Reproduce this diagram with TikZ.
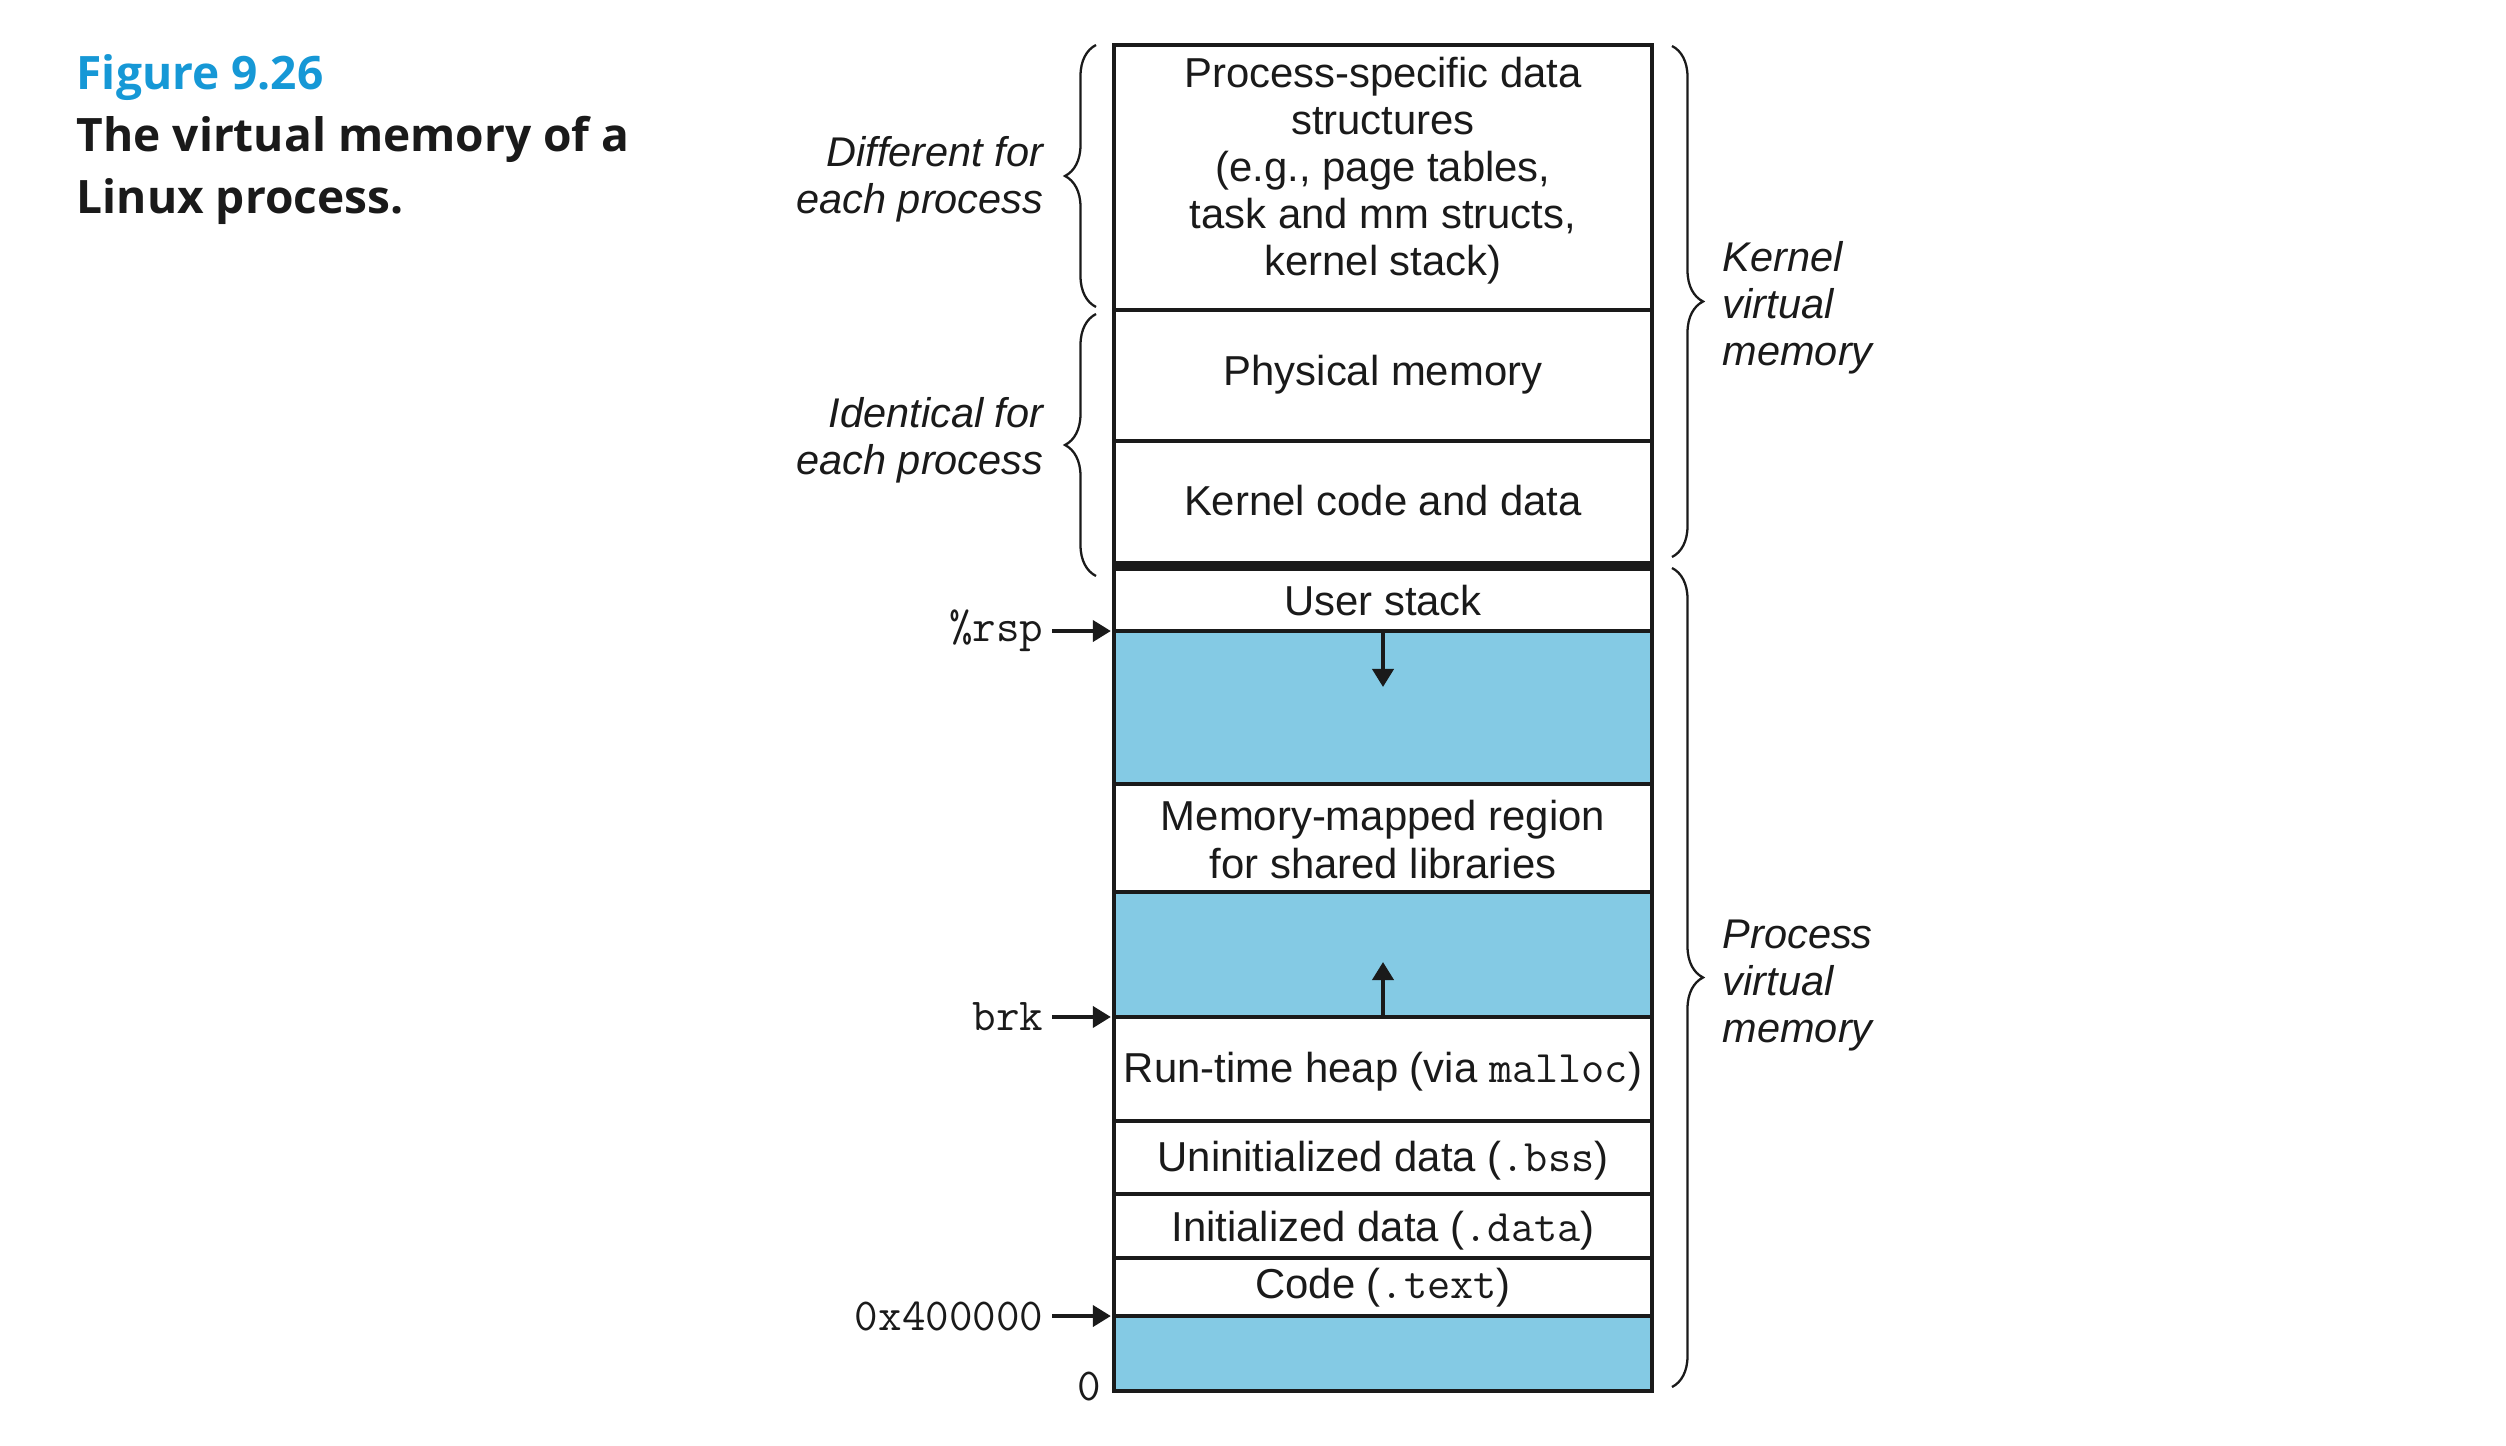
\documentclass[tikz,border=0pt]{standalone}
\usepackage{fontspec}
\setmainfont{Liberation Sans}
\setmonofont{Latin Modern Mono}
\newfontfamily\titlefont{Open Sans}
\usetikzlibrary{arrows.meta,decorations.pathreplacing}
\definecolor{memblue}{RGB}{132,202,228}
\definecolor{figblue}{RGB}{22,152,214}
\definecolor{ink}{RGB}{26,26,26}
\begin{document}
\begin{tikzpicture}[x=0.01cm,y=-0.01cm,
  region/.style={draw=ink,line width=1.13pt,minimum width=5.38cm,inner sep=0pt,outer sep=0pt},
  gap/.style={region,fill=memblue},
  lbl/.style={font=\fontsize{11.9}{13.4}\selectfont,text=ink,inner sep=0pt,anchor=base},
  ilbl/.style={lbl,font=\fontsize{11.8}{13.4}\selectfont\itshape},
  addr/.style={font=\fontsize{13}{15}\selectfont\ttfamily,text=ink,anchor=east,inner xsep=0.08cm,inner ysep=0pt},
  ptr/.style={draw=ink,line width=1.1pt,-{Triangle[length=0.18cm,width=0.21cm]}},
  brace/.style={draw=ink,line width=0.65pt,decorate,decoration={brace,amplitude=0.31cm}},
  ttl/.style={font=\titlefont\bfseries\fontsize{13.1}{15}\selectfont,inner sep=0pt,anchor=base west}
]
\useasboundingbox (0,0) rectangle (2506,1446);

% title
\node[ttl,text=figblue] (fig) at (76,90) {Figure 9.26};
\node[ttl,text=ink] (capA) at (76,152) {The virtual memory of a};
\node[ttl,text=ink] (capB) at (76,214) {Linux process.};

% regions
\node[region,minimum height=2.65cm] (psd) at (1383,177.5) {};
\node[region,minimum height=1.31cm] (phys) at (1383,375.5) {};
\node[region,minimum height=1.25cm] (kcode) at (1383,503.5) {};
\node[region,minimum height=0.65cm] (ustack) at (1383,598.5) {};
\node[gap,minimum height=1.53cm] (gapA) at (1383,707.5) {};
\node[region,minimum height=1.08cm] (mmap) at (1383,838) {};
\node[gap,minimum height=1.25cm] (gapB) at (1383,954.5) {};
\node[region,minimum height=1.04cm] (heap) at (1383,1069) {};
\node[region,minimum height=0.73cm] (bss) at (1383,1157.5) {};
\node[region,minimum height=0.64cm] (data) at (1383,1226) {};
\node[region,minimum height=0.58cm] (code) at (1383,1287) {};
\node[gap,minimum height=0.75cm] (gapC) at (1383,1353.5) {};

\draw[draw=ink,line width=0.1cm] (kcode.south west) -- (kcode.south east);

% region texts
\node[lbl] (psdA) at (1383,88) {Process-specific data};
\node[lbl] (psdB) at (1383,135) {structures};
\node[lbl] (psdC) at (1383,182) {(e.g., page tables,};
\node[lbl] (psdD) at (1383,229) {task and mm structs,};
\node[lbl] (psdE) at (1383,276) {kernel stack)};
\node[lbl] (physT) at (1383,386) {Physical memory};
\node[lbl] (kcodeT) at (1383,515) {Kernel code and data};
\node[lbl] (ustackT) at (1383,615) {User stack};
\node[lbl] (mmapA) at (1383,830) {Memory-mapped region};
\node[lbl] (mmapB) at (1383,878) {for shared libraries};
\node[lbl] (heapT) at (1383,1082) {Run-time heap (via \texttt{\fontsize{12.8}{14}\selectfont malloc})};
\node[lbl] (bssT) at (1383,1171) {Uninitialized data (\texttt{\fontsize{12.8}{14}\selectfont .bss})};
\node[lbl] (dataT) at (1383,1241) {Initialized data (\texttt{\fontsize{12.8}{14}\selectfont .data})};
\node[lbl] (codeT) at (1383,1298) {Code (\texttt{\fontsize{12.8}{14}\selectfont .text})};

% growth arrows
\coordinate (stackTip) at (1383,687);
\coordinate (heapTip) at (1383,962);
\draw[ptr] (ustack.south) -- (stackTip);
\draw[ptr] (heap.north) -- (heapTip);

% pointers
\node[addr] (rsp) at (1052,631) {\%rsp};
\node[addr] (brk) at (1052,1017) {brk};
\node[addr] (addr0) at (1052,1316) {0x400000};
\node[font=\fontsize{13}{15}\selectfont\ttfamily,text=ink,anchor=base east,inner sep=0pt] (zero) at (1102,1400) {0};
\draw[ptr,shorten >=0.03cm] (rsp.east) -- (ustack.south west);
\draw[ptr,shorten >=0.03cm] (brk.east) -- (heap.north west);
\draw[ptr,shorten >=0.03cm] (addr0.east) -- (code.south west);

% braces
\coordinate (bLAs) at (1096,307);
\coordinate (bLAe) at (1096,45);
\coordinate (bLBs) at (1096,576);
\coordinate (bLBe) at (1096,314);
\coordinate (bRAs) at (1672,46);
\coordinate (bRAe) at (1672,557);
\coordinate (bRBs) at (1672,568);
\coordinate (bRBe) at (1672,1387);
\draw[brace] (bLAs) -- (bLAe);
\draw[brace] (bLBs) -- (bLBe);
\draw[brace] (bRAs) -- (bRAe);
\draw[brace] (bRBs) -- (bRBe);

% brace labels
\node[ilbl,anchor=base east] (diffA) at (1044,167) {Different for};
\node[ilbl,anchor=base east] (diffB) at (1044,214) {each process};
\node[ilbl,anchor=base east] (identA) at (1044,428) {Identical for};
\node[ilbl,anchor=base east] (identB) at (1044,475) {each process};
\node[ilbl,anchor=base west] (kvA) at (1722,272) {Kernel};
\node[ilbl,anchor=base west] (kvB) at (1722,319) {virtual};
\node[ilbl,anchor=base west] (kvC) at (1722,366) {memory};
\node[ilbl,anchor=base west] (pvA) at (1722,948) {Process};
\node[ilbl,anchor=base west] (pvB) at (1722,995) {virtual};
\node[ilbl,anchor=base west] (pvC) at (1722,1042) {memory};
\end{tikzpicture}
\end{document}
